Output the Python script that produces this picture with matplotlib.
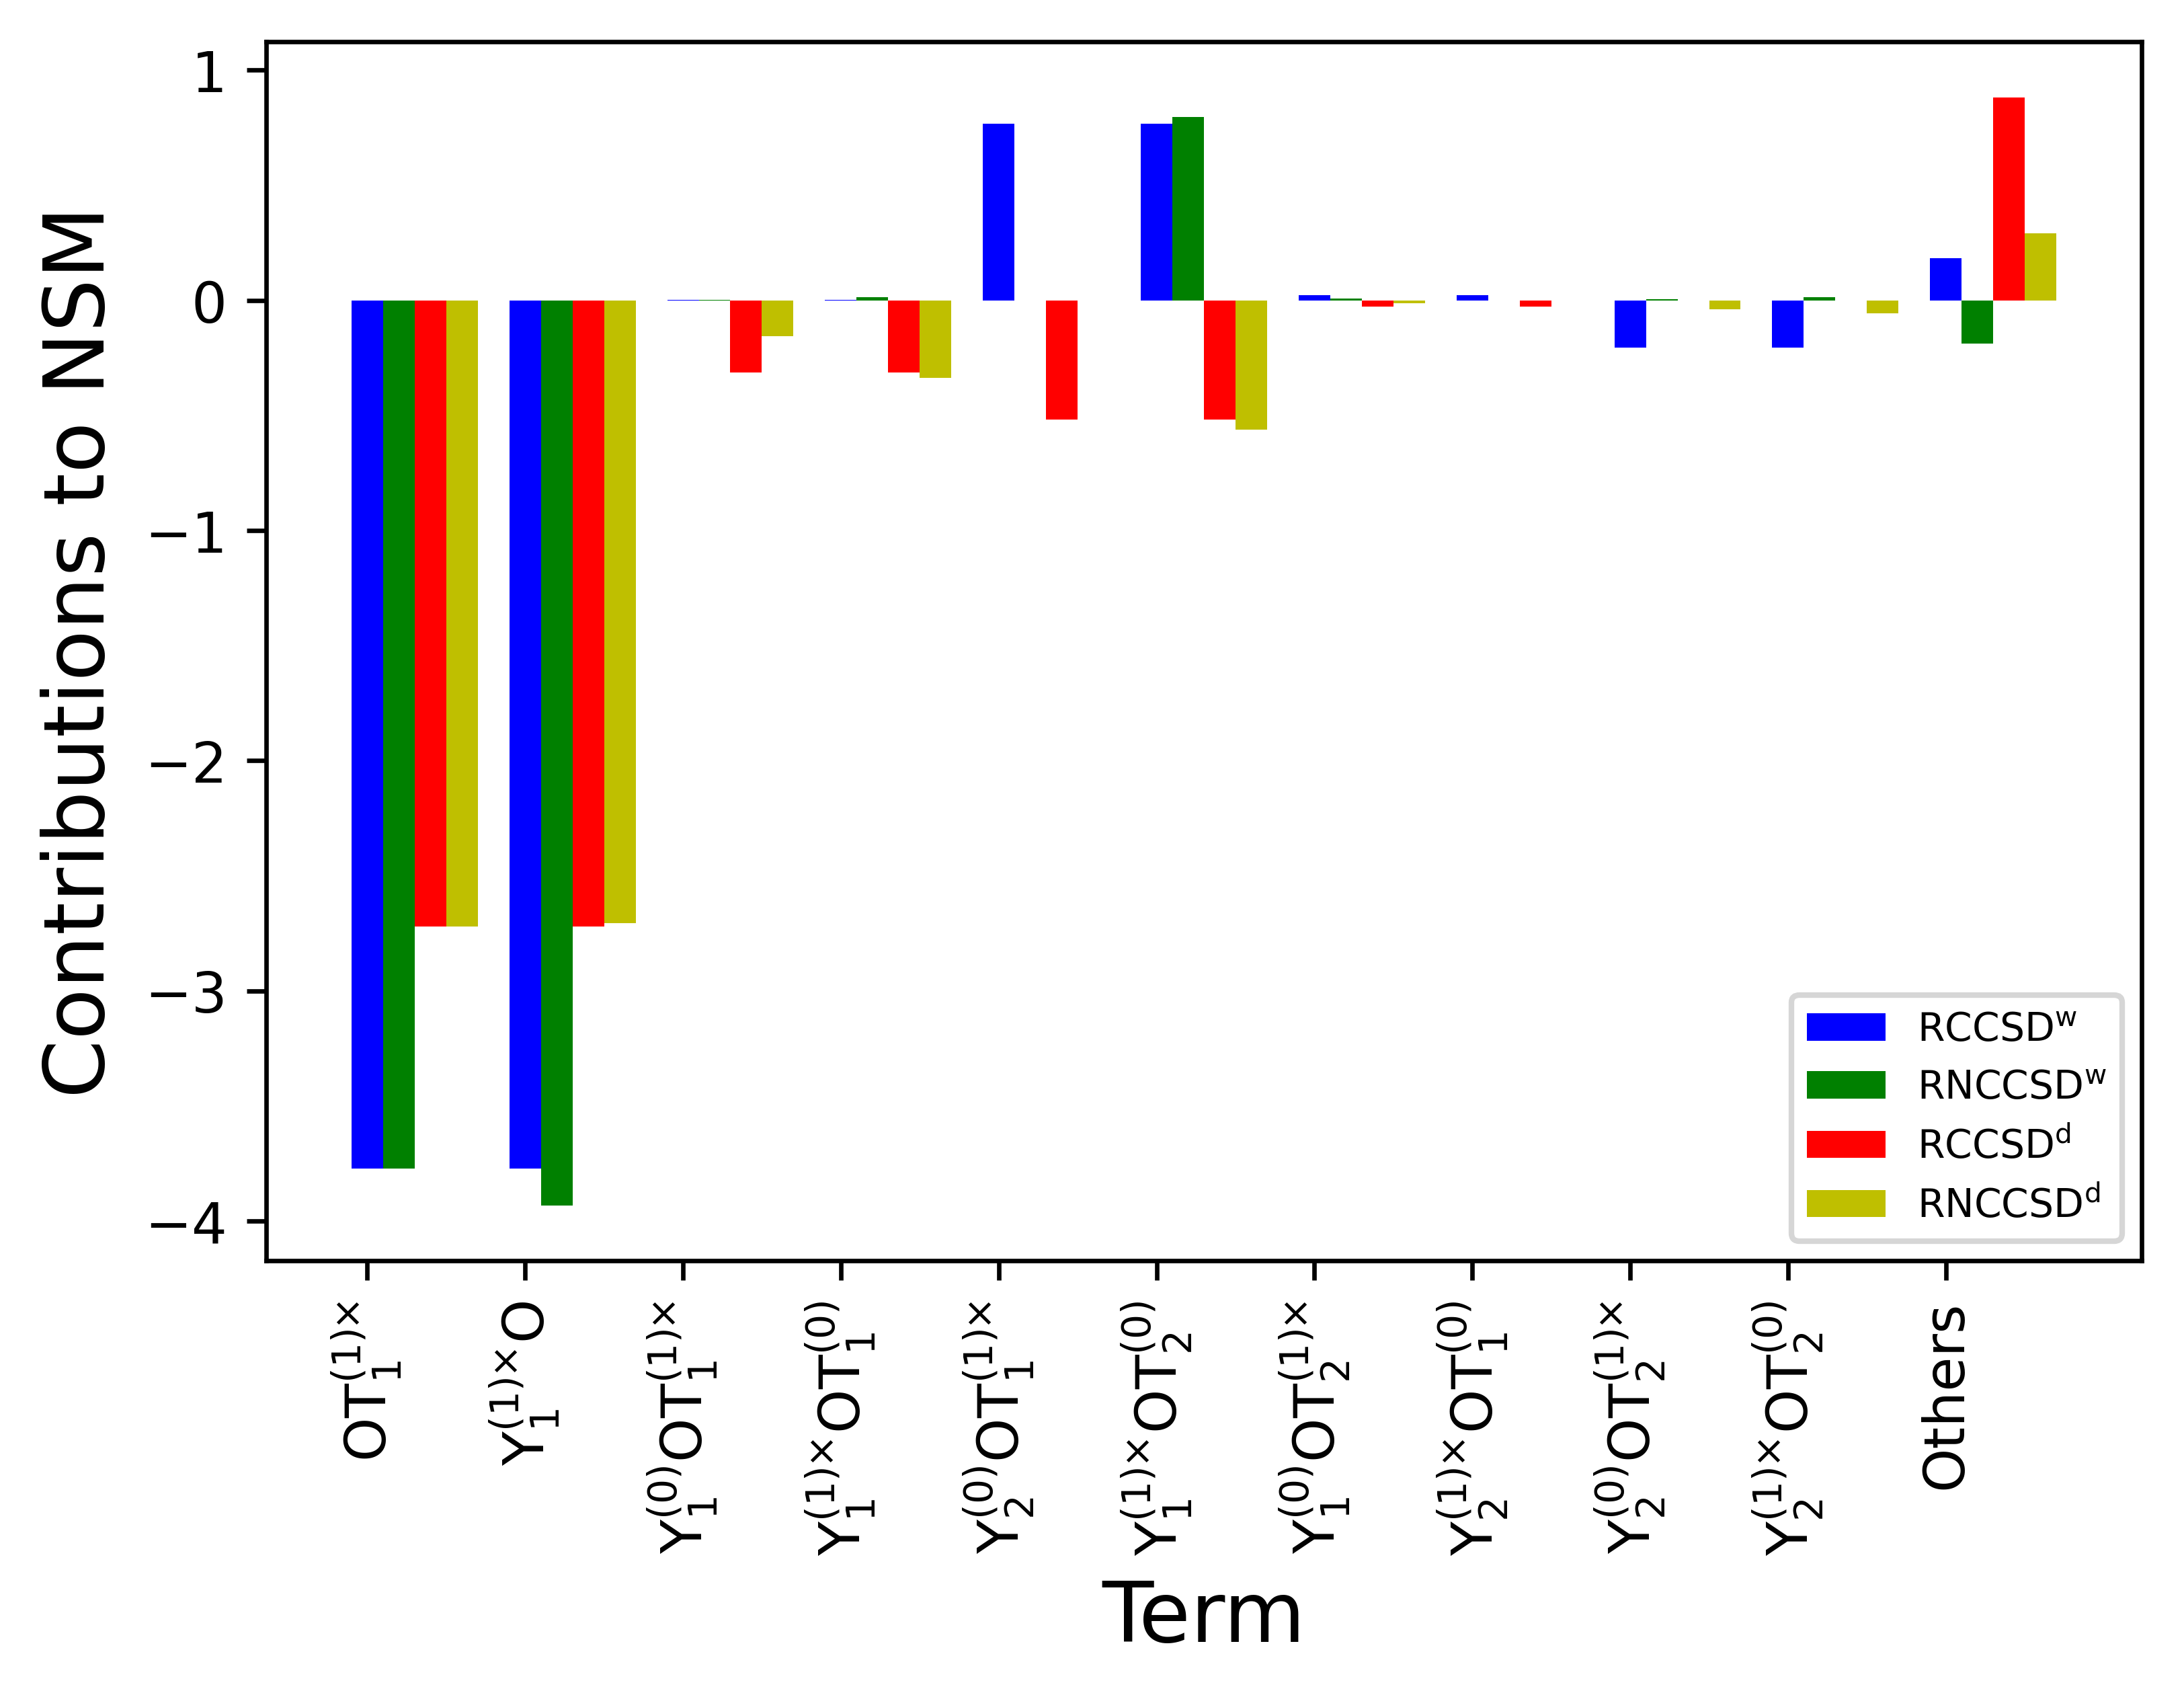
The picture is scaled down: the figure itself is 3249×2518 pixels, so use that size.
import matplotlib
matplotlib.use("Agg")
import matplotlib.pyplot as plt
import numpy as np

plt.rcParams['mathtext.default'] = 'regular'

terms = [r"$OT_1^{(1)×}$",
         r"$Y_1^{(1)×}O$",
         r"$Y_1^{(0)}OT_1^{(1)×}$",
         r"$Y_1^{(1)×}OT_1^{(0)}$",
         r"$Y_2^{(0)}OT_1^{(1)×}$",
         r"$Y_1^{(1)×}OT_2^{(0)}$",
         r"$Y_1^{(0)}OT_2^{(1)×}$",
         r"$Y_2^{(1)×}OT_1^{(0)}$",
         r"$Y_2^{(0)}OT_2^{(1)×}$",
         r"$Y_2^{(1)×}OT_2^{(0)}$",
         "Others"]

rccsd_w = [-3.772, -3.772, 0.002, 0.002, 0.767, 0.767, 0.023, 0.023, -0.206, -0.206, 0.184]
rnccsd_w = [-3.772, -3.932, 0.002, 0.015, 0.0, 0.796, 0.009, 0.0, 0.006, 0.015, -0.187]
rccsd_d = [-2.721, -2.721, -0.314, -0.314, -0.517, -0.517, -0.026, -0.026, 0.0, 0.0, 0.882]
rnccsd_d = [-2.721, -2.706, -0.155, -0.336, 0.0, -0.561, -0.012, 0.0, -0.038, -0.055, 0.292]

labels = [r"$RCCSD^w$", r"$RNCCSD^w$", r"$RCCSD^d$", r"$RNCCSD^d$"]
colors = ['b', 'g', 'r', 'y']

x = np.arange(len(terms))
width = 0.2

fig, ax = plt.subplots(figsize=(5.415, 4.198), dpi=600)
fig.subplots_adjust(left=0.1219, right=0.9806, bottom=0.2553, top=0.9749)

for i, (vals, lab, col) in enumerate(zip([rccsd_w, rnccsd_w, rccsd_d, rnccsd_d], labels, colors)):
    ax.bar(x + i * width, vals, width, color=col, label=lab)

ax.set_xticks(x)
ax.set_xticklabels(terms, rotation=90)
ax.set_xlabel("Term", fontsize=15)
ax.set_ylabel("Contributions to NSM", fontsize=15)
ax.legend(loc="lower right", fontsize=7)

fig.savefig("out.png", dpi=600)
